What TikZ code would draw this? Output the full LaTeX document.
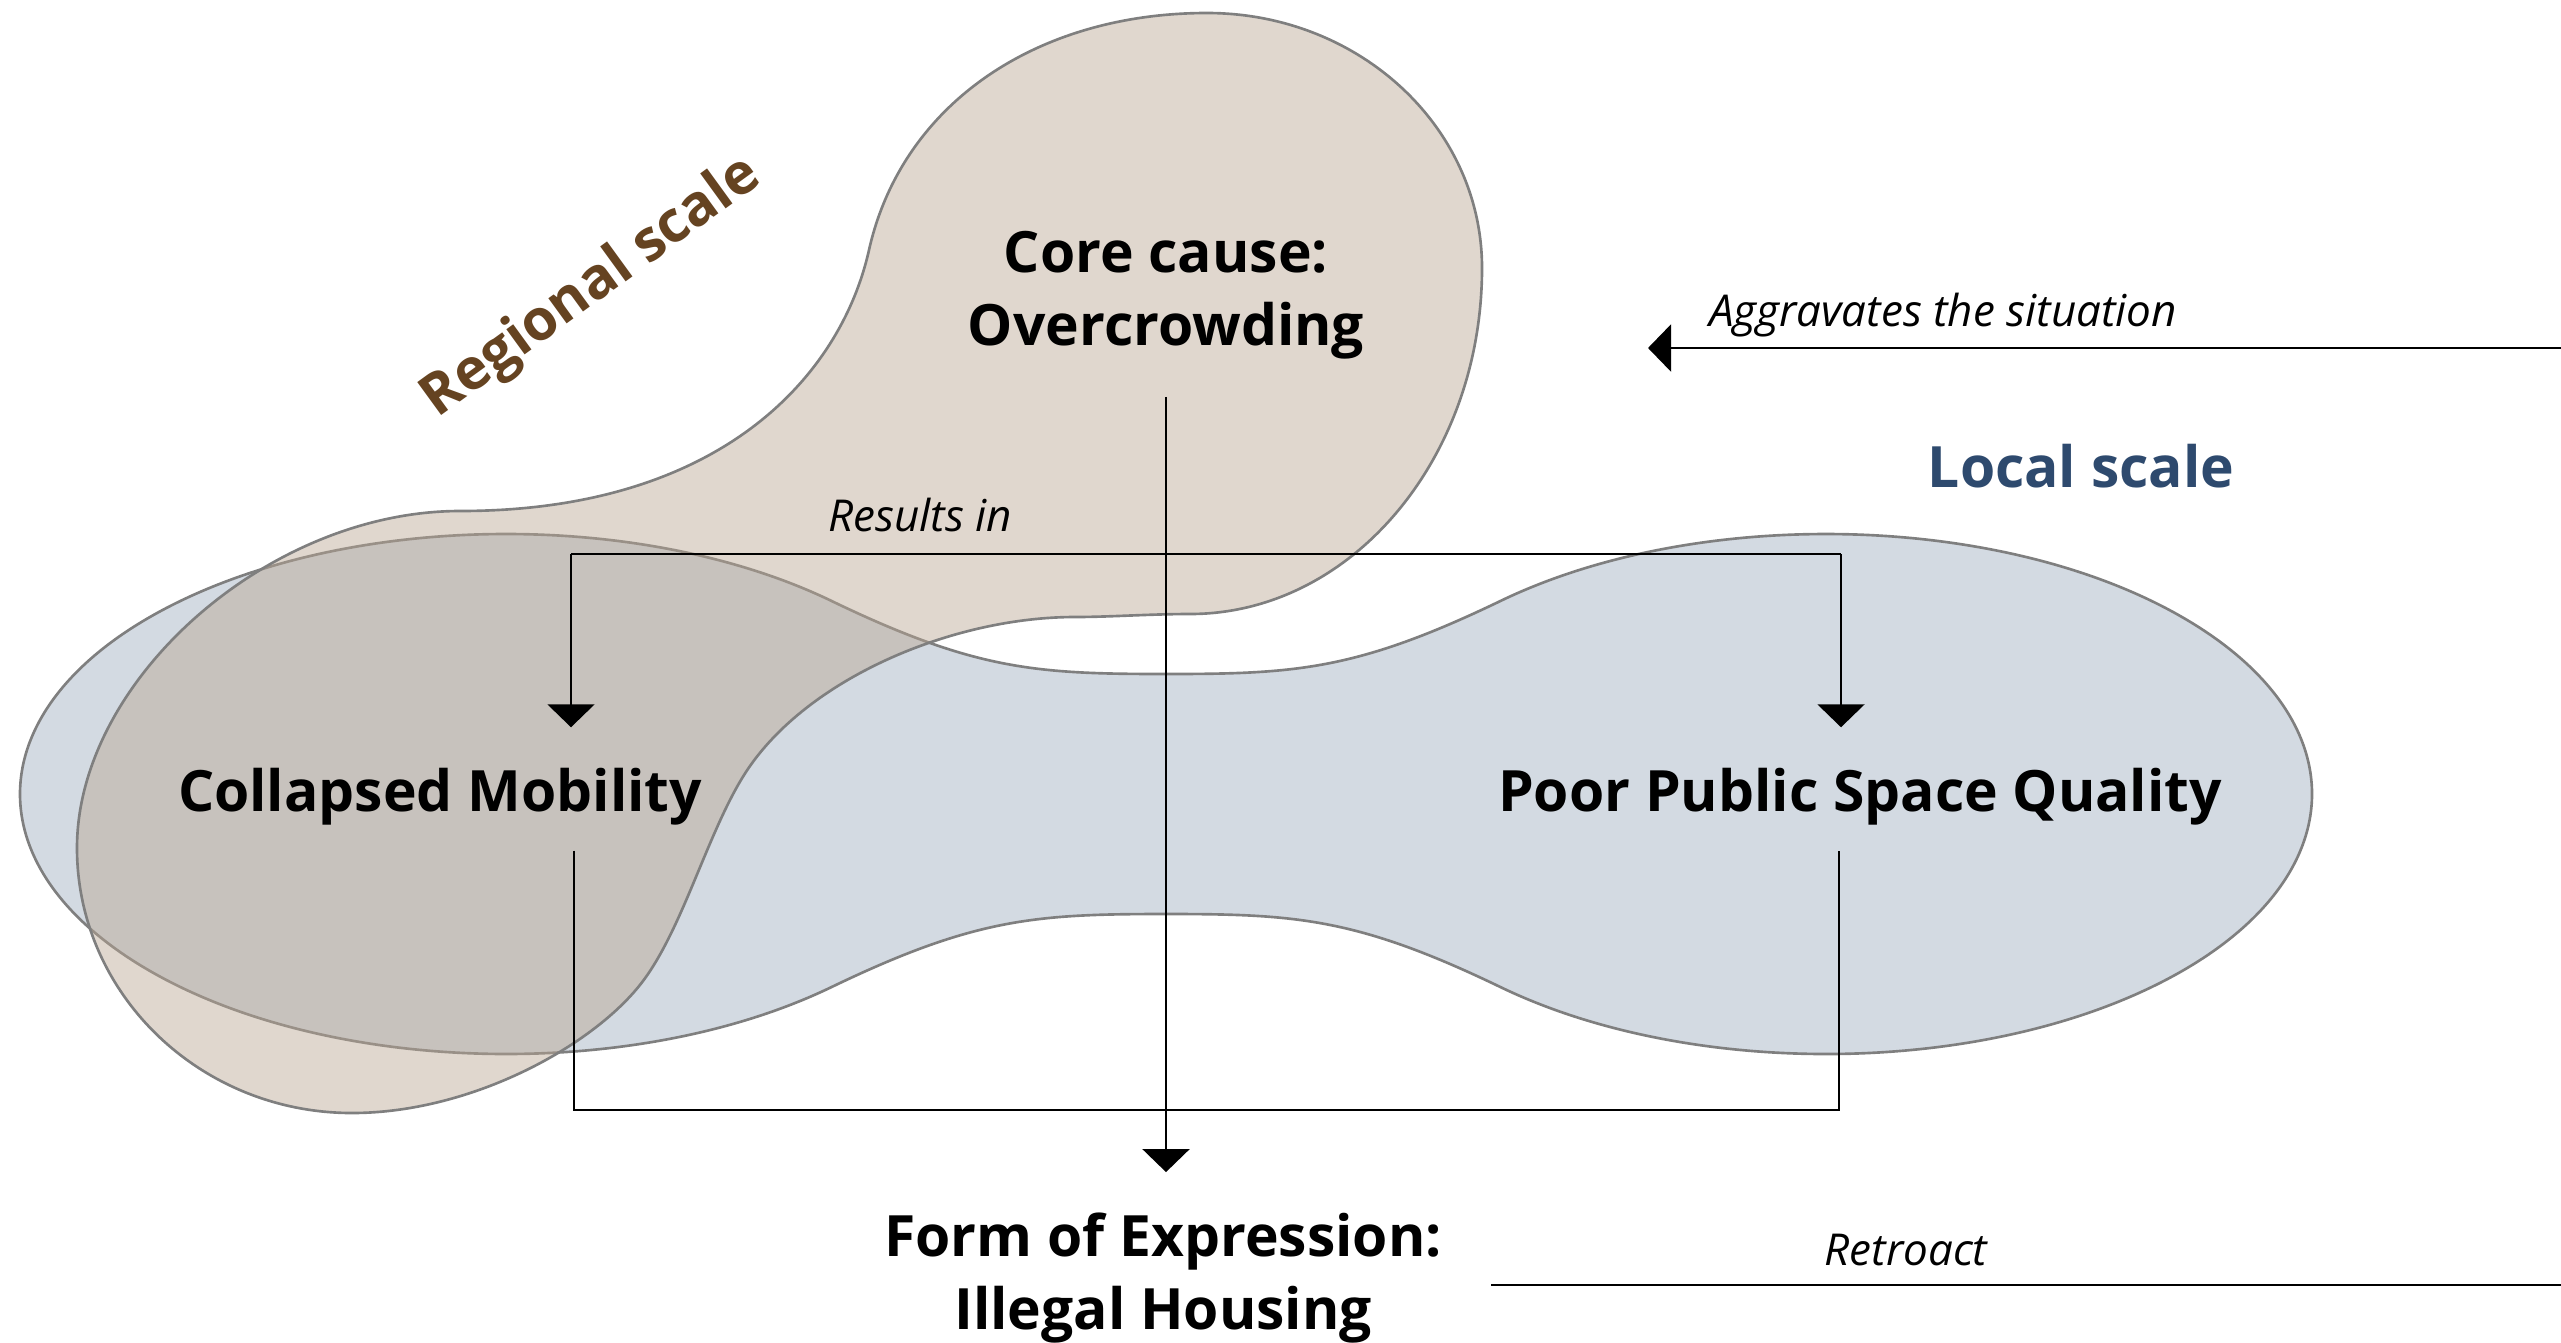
\documentclass[tikz,border=0pt]{standalone}
\usepackage{fontspec}
\setmainfont{Open Sans}
\usetikzlibrary{arrows.meta}
\definecolor{bluefill}{RGB}{211,218,226}
\definecolor{tanfill}{RGB}{186,166,146}
\definecolor{outl}{RGB}{127,127,127}
\definecolor{regbrown}{RGB}{101,67,33}
\definecolor{locblue}{RGB}{46,74,110}
\tikzset{
  lbl/.style={font=\bfseries\fontsize{16.2pt}{20.8pt}\selectfont, inner xsep=0pt},
  lblone/.style={lbl, text height=0.44cm, text depth=0pt, inner ysep=0.39cm, anchor=base},
  note/.style={font=\itshape\fontsize{12.5pt}{15pt}\selectfont, inner sep=0pt, anchor=base},
  conn/.style={line width=0.65pt, draw=black},
  arr/.style={conn, -{Triangle[length=2.3mm,width=4.7mm]}},
  shapeline/.style={draw=outl, line width=0.75pt},
}
\begin{document}
\begin{tikzpicture}[x=0.01cm,y=-0.01cm]
\useasboundingbox (0,0) rectangle (2561,1342);
% local scale shape
\path[shapeline, fill=bluefill]
  (831.2,600.8) .. controls (975.2,670.2) and (1036,674) .. (1166,674)
  .. controls (1296,674) and (1356.8,670.2) .. (1500.8,600.8)
  arc[start angle=228, end angle=492, x radius=486, y radius=260]
  .. controls (1356.8,917.8) and (1296,914) .. (1166,914)
  .. controls (1036,914) and (975.2,917.8) .. (831.2,987.2)
  arc[start angle=48, end angle=312, x radius=486, y radius=260] -- cycle;
% regional scale shape
\path[shapeline, fill=tanfill, fill opacity=0.45]
  (460,511) .. controls (720,511) and (840.5,376.9) .. (869,250)
  .. controls (901.9,103.6) and (1037,13) .. (1207,13)
  .. controls (1359,13) and (1482,127) .. (1482,268)
  .. controls (1482,459) and (1351,614) .. (1190,614)
  .. controls (1150,614) and (1110,617) .. (1075,617)
  .. controls (955,617) and (813,676) .. (750,766)
  .. controls (710,823) and (685,925) .. (643,981)
  .. controls (595,1045) and (472,1113) .. (352,1113)
  .. controls (200,1113) and (77,994) .. (77,848)
  .. controls (77,680) and (268.5,511) .. (460,511) -- cycle;
% labels
\node[lbl, align=center, inner ysep=0.37cm] (core) at (1166,295) {Core cause:\\Overcrowding};
\node[lbl, align=center, inner ysep=0.40cm] (housing) at (1163,1278) {Form of Expression:\\Illegal Housing};
\node[lblone] (mob) at (440,811) {Collapsed Mobility};
\node[lblone] (pub) at (1860,811) {Poor Public Space Quality};
\node[lbl, text=locblue, anchor=base] (local) at (2081,487) {Local scale};
\node[lbl, text=regbrown, rotate=36] (regional) at (592,288) {Regional scale};
\node[note] (agg) at (1943,326) {Aggravates the situation};
\node[note] (res) at (920,531) {Results in};
\node[note] (ret) at (1906,1265) {Retroact};
% connectors
\coordinate (aggR) at (2561,348);
\coordinate (aggL) at (1648,348);
\draw[arr] (aggR) -- (aggL);
\coordinate (retL) at (1491,1285);
\coordinate (retR) at (2561,1285);
\draw[conn] (retL) -- (retR);
\draw[arr] (core.south) -- (core.south |- housing.north);
\coordinate (bl) at (571,554);
\coordinate (br) at (1841,554);
\draw[conn] (bl) -- (br);
\draw[arr] (bl) -- (bl |- mob.north);
\draw[arr] (br) -- (br |- pub.north);
\coordinate (ml) at (574,1110);
\coordinate (mr) at (1839,1110);
\draw[conn] (ml |- mob.south) -- (ml) -- (mr) -- (mr |- pub.south);
\end{tikzpicture}
\end{document}
